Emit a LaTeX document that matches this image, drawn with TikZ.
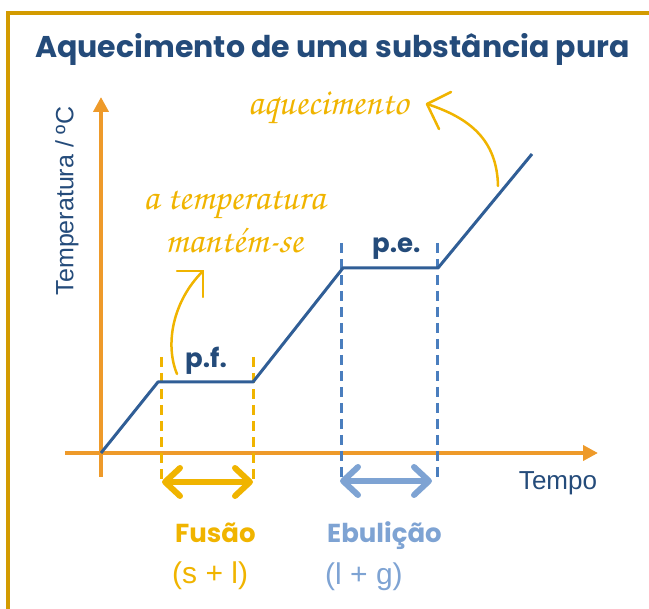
\documentclass[tikz,border=0pt]{standalone}
\usepackage{fontspec}
\setmainfont{Liberation Sans}
\newfontfamily\titlefont{Poppins}
\newfontfamily\handfont{texgyrechorus-mediumitalic}[Extension=.otf]
\usetikzlibrary{arrows.meta}
\definecolor{frameGold}{RGB}{211,155,0}
\definecolor{titleBlue}{RGB}{36,75,122}
\definecolor{axisOrange}{RGB}{238,154,42}
\definecolor{curveBlue}{RGB}{48,94,150}
\definecolor{hlYellow}{RGB}{240,180,0}
\definecolor{dashBlue}{RGB}{74,126,190}
\definecolor{lightBlue}{RGB}{126,163,211}
\tikzset{
  axisline/.style={axisOrange, line width=4pt, -{Triangle[length=15pt,width=15pt]}},
  curveline/.style={curveBlue, line width=3pt, line join=round},
  ydash/.style={hlYellow, line width=3pt, dash pattern=on 10pt off 6pt},
  bdash/.style={dashBlue, line width=3pt, dash pattern=on 10pt off 6pt},
  dblarrow/.style={line width=6pt, {Straight Barb[length=15pt,width=28pt,round]}-{Straight Barb[length=15pt,width=28pt,round]}},
  annot/.style={hlYellow, line width=2.5pt, line cap=round, line join=round},
  hand/.style={text=hlYellow, inner sep=0pt, anchor=base, font=\handfont\fontsize{37}{37}\selectfont},
  bold/.style={inner sep=0pt, anchor=base west, font=\titlefont\bfseries\fontsize{26}{26}\selectfont},
  plain/.style={inner sep=0pt, anchor=base west, font=\fontsize{30}{30}\selectfont},
}
\begin{document}
\begin{tikzpicture}[x=1pt,y=-1pt]
\useasboundingbox (0,0) rectangle (649,609);
\begin{scope}
\clip (0,0) rectangle (649,609);
\draw[frameGold, line width=4pt] (8,700) -- (8,13) -- (700,13);
\end{scope}
% title
\node[inner sep=0pt, anchor=base west, text=titleBlue, font=\titlefont\bfseries\fontsize{30}{30}\selectfont] (title) at (35,58) {Aquecimento de uma substância pura};
% axes
\coordinate (yb) at (101,477); \coordinate (yt) at (101,97);
\coordinate (xl) at (65,453); \coordinate (xr) at (598,453);
\draw[axisline] (yb) -- (yt);
\draw[axisline] (xl) -- (xr);
\node[rotate=90, text=titleBlue, inner sep=0pt, font=\fontsize{25}{25}\selectfont] (ylab) at (67,201) {Temperatura / ºC};
\node[text=titleBlue, inner sep=0pt, anchor=base, font=\fontsize{26}{26}\selectfont] (tempo) at (558,490) {Tempo};
% dashed guides
\coordinate (f1t) at (161,357); \coordinate (f1b) at (161,480);
\coordinate (f2t) at (253,357); \coordinate (f2b) at (253,480);
\coordinate (e1t) at (341,243); \coordinate (e1b) at (341,480);
\coordinate (e2t) at (437,243); \coordinate (e2b) at (437,480);
\draw[ydash] (f1t) -- (f1b);
\draw[ydash] (f2t) -- (f2b);
\draw[bdash] (e1t) -- (e1b);
\draw[bdash] (e2t) -- (e2b);
% heating curve
\coordinate (o) at (101,453);
\coordinate (a) at (158,382);
\coordinate (b) at (253,382);
\coordinate (c) at (343,268);
\coordinate (d) at (438,268);
\coordinate (e) at (532,154);
\draw[curveline] (o) -- (a) -- (b) -- (c) -- (d) -- (e);
% double arrows
\coordinate (fa1) at (162,482); \coordinate (fa2) at (253,482);
\coordinate (ea1) at (340,481); \coordinate (ea2) at (432,481);
\draw[dblarrow, hlYellow] (fa1) -- (fa2);
\draw[dblarrow, lightBlue] (ea1) -- (ea2);
% labels
\node[bold, text=titleBlue] (pf) at (185,368) {p.f.};
\node[bold, text=titleBlue] (pe) at (372,253) {p.e.};
\node[bold, text=hlYellow] (fusao) at (175,543) {Fusão};
\node[bold, text=lightBlue] (ebul) at (327,543) {Ebulição};
\node[plain, text=hlYellow] (sl) at (172,584) {(s + l)};
\node[plain, text=lightBlue] (lg) at (325,585) {(l + g)};
% handwritten notes
\node[hand] (aq) at (328,115) {aquecimento};
\node[hand] (temp1) at (234,210) {a temperatura};
\node[hand] (temp2) at (234,253) {mantém-se};
% annotation arrows (curve + open chevron head)
\coordinate (aqS) at (498,186); \coordinate (aqT) at (427,104);
\coordinate (aqH1) at (451,92); \coordinate (aqH2) at (439,129);
\draw[annot] (aqS) .. controls (497,140) and (470,118) .. (aqT);
\draw[annot] (aqH1) -- (aqT) -- (aqH2);
\coordinate (mS) at (177,374); \coordinate (mT) at (203,271);
\coordinate (mH1) at (177,271); \coordinate (mH2) at (203,297);
\draw[annot] (mS) .. controls (165,345) and (172,302) .. (mT);
\draw[annot] (mH1) -- (mT) -- (mH2);
\end{tikzpicture}
\end{document}
